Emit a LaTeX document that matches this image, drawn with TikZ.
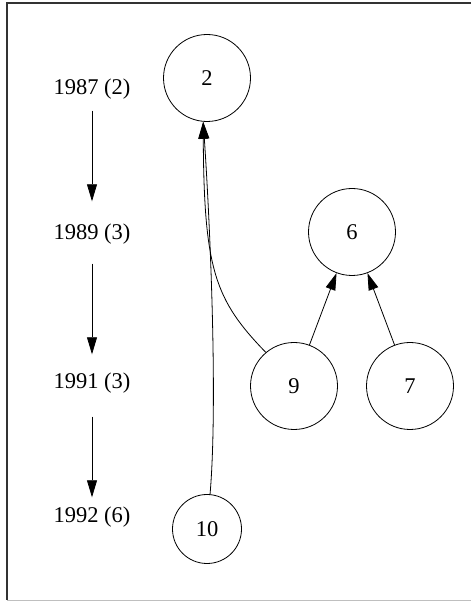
\documentclass[tikz,border=0pt]{standalone}
\usepackage{fontspec}
\setmainfont{Liberation Serif}
\usetikzlibrary{arrows.meta}

\begin{document}
\begin{tikzpicture}[x=1pt,y=1pt,
        every node/.style={font=\fontsize{22.5}{27}\selectfont},
        vertex/.style={circle,draw,line width=0.8pt,minimum size=87pt,inner sep=0pt},
        year/.style={inner sep=0pt,text height=16pt,text depth=5pt},
        edge/.style={line width=0.8pt,-{Triangle[length=17pt,width=10pt]}}]
        \useasboundingbox (0,0) rectangle (471,602);

        % frame
        \draw [line width=1.5pt,black!80] (7,2) -- (7,599) -- (471,599); % Left and Top Line
        \draw [line width=1.5pt,black!25] (7,1.5) -- (471,1.5);          % Bottom Line

        % years
        \node [year] (y1987) at (92, 513) {1987 (2)};
        \node [year] (y1989) at (92, 368) {1989 (3)};
        \node [year] (y1991) at (92, 219) {1991 (3)};
        \node [year] (y1992) at (92,  85) {1992 (6)};

        \draw [edge,shorten <=11pt,shorten >=22pt] (y1987) -- (y1989);
        \draw [edge,shorten <=19pt,shorten >=18pt] (y1989) -- (y1991);
        \draw [edge,shorten <=23pt,shorten >=9pt]  (y1991) -- (y1992);

        % papers
        \node [vertex] (n2)  at (207, 524) {2};
        \node [vertex] (n6)  at (352, 370) {6};
        \node [vertex] (n9)  at (294, 216) {9};
        \node [vertex] (n7)  at (410, 216) {7};
        \node [vertex,minimum size=69pt] (n10) at (207, 73) {10};

        % citations
        \draw [edge] (n10.85) .. controls (218,200) and (210,380) .. (n2.265);
        \draw [edge] (n9.130) .. controls (215,302) and (204,332) .. (n2.265);
        \draw [edge] (n9) -- (n6);
        \draw [edge] (n7) -- (n6);
    \end{tikzpicture}
\end{document}
